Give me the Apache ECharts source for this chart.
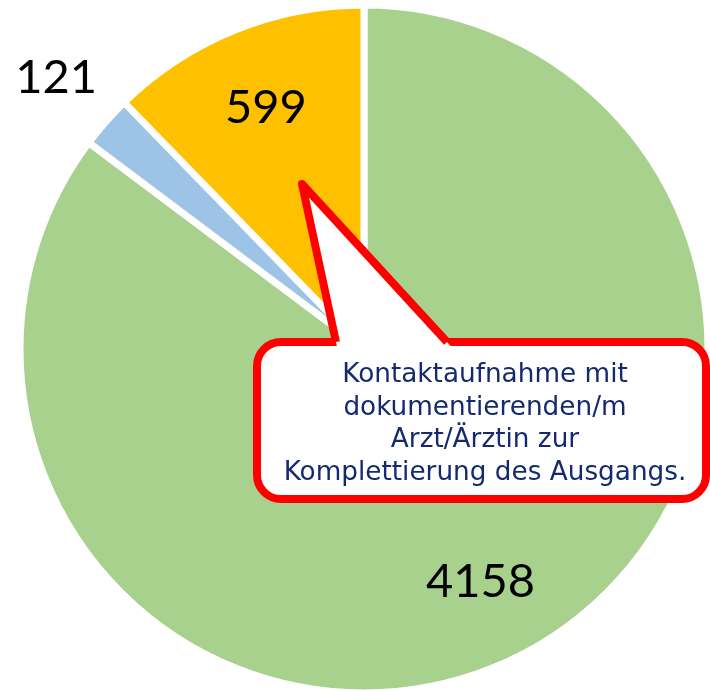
<!DOCTYPE html>
<html>
<head>
<meta charset="utf-8">
<script src="https://cdn.jsdelivr.net/npm/echarts@6/dist/echarts.min.js"></script>
<style>html,body{margin:0;padding:0;background:#fff}#c{width:710px;height:690px}</style>
</head>
<body>
<div id="c"></div>
<script>
const categories = ['A', 'B', 'C'];
const values = [4158, 121, 599];
const colors = ['#a9d18e', '#9dc3e6', '#ffc000'];
const calloutLines = ['Kontaktaufnahme mit', 'dokumentierenden/m', 'Arzt/Ärztin zur', 'Komplettierung des Ausgangs.'];

const chart = echarts.init(document.getElementById('c'), null, {renderer: 'canvas'});
const data = categories.map((c, i) => ({name: c, value: values[i], itemStyle: {color: colors[i]}}));
const center = [364, 349];
const numFont = {fontFamily: 'Lato', fontSize: 47, color: '#000'};

const overlay = (radius, showIdx) => ({
  type: 'pie', center: center, radius: [0, radius], startAngle: 90, clockwise: true,
  silent: true, animation: false, z: 5,
  itemStyle: {color: 'rgba(0,0,0,0)', borderWidth: 0},
  labelLine: {show: false},
  data: categories.map((c, i) => ({
    name: c, value: values[i],
    label: Object.assign({show: showIdx.includes(i), position: 'inside', formatter: '{c}'}, numFont)
  }))
});

chart.setOption({
  animation: false,
  series: [
    {
      type: 'pie', center: center, radius: [0, 344], startAngle: 90, clockwise: true,
      animation: false, silent: true,
      itemStyle: {borderColor: '#ffffff', borderWidth: 7},
      label: {show: false}, labelLine: {show: false},
      data: data
    },
    overlay(515, [0, 2]),
    overlay(814, [1])
  ],
  graphic: [
    {
      type: 'rect', z: 100,
      shape: {x: 257, y: 342, width: 449, height: 157, r: 24},
      style: {fill: '#ffffff', stroke: '#ff0000', lineWidth: 8}
    },
    {
      type: 'polygon', z: 101,
      shape: {points: [[337.7, 350], [302, 184], [454.3, 350]]},
      style: {fill: '#ffffff'}
    },
    {
      type: 'polyline', z: 102,
      shape: {points: [[336, 342], [302, 184], [447, 342]]},
      style: {stroke: '#ff0000', lineWidth: 8, lineJoin: 'round', fill: null}
    },
    {
      type: 'text', z: 103,
      x: 485, y: 359,
      style: {
        text: calloutLines.join('\n'),
        fontFamily: 'DejaVu Sans', fontSize: 26.3, lineHeight: 32.5,
        fill: '#142a6e', align: 'center', verticalAlign: 'top'
      }
    }
  ]
});
</script>
</body>
</html>
